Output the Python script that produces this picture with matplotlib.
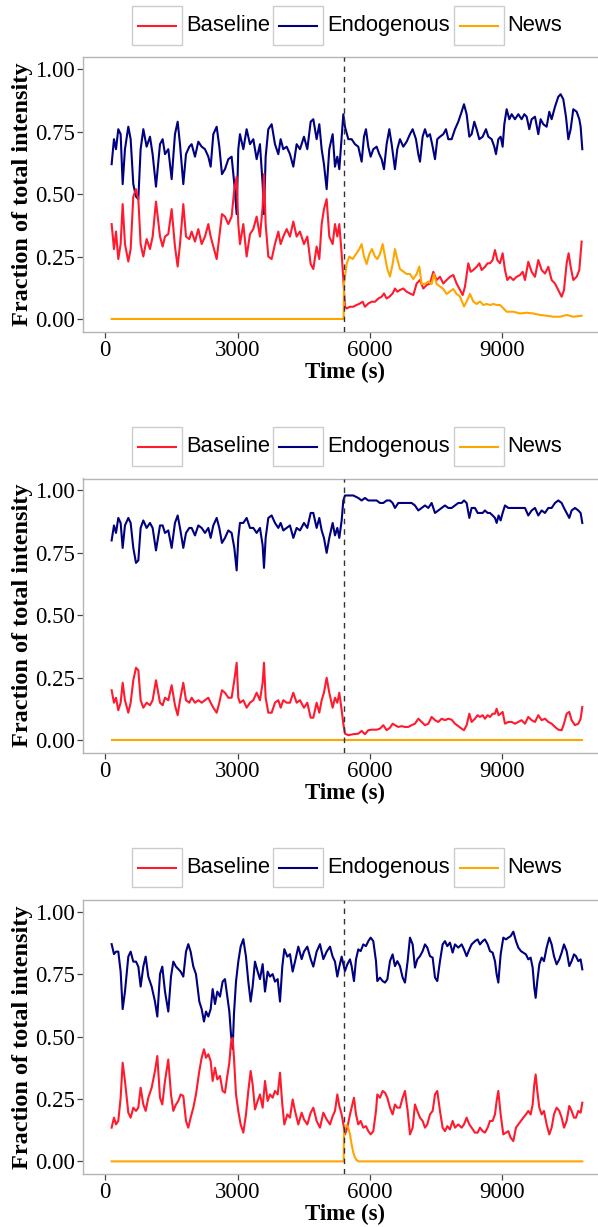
import matplotlib
matplotlib.use("Agg")
import matplotlib.pyplot as plt
from matplotlib.patches import Rectangle
from matplotlib.lines import Line2D

plt.rcParams['font.family'] = ['Liberation Serif', 'DejaVu Serif']

# ---------------- data ----------------
series_names = ["Baseline", "Endogenous", "News"]
x_ticks = [0, 3000, 6000, 9000]
x_tick_labels = ["0", "3000", "6000", "9000"]
y_ticks = [0.00, 0.25, 0.50, 0.75, 1.00]
y_tick_labels = ["0.00", "0.25", "0.50", "0.75", "1.00"]
news_onset = 5400
x_label = "Time (s)"
y_label = "Fraction of total intensity"

# shared time grid, first half of panels 1 and 2
t_left_ab = [144,197,243,295,348,394,446,522,575,635,696,749,801,862,937,1013,1073,1149,1240,1300,
             1353,1428,1504,1579,1640,1693,1768,1829,1904,1957,2033,2108,2184,2259,2335,2388,2448,2524,2584,2644,
             2712,2788,2863,2924,2977,3014,3052,3128,3203,3279,3354,3430,3505,3566,3596,3634,3694,3770,3845,3921,
             3974,4034,4110,4185,4261,4336,4412,4502,4578,4654,4714,4789,4850,4903,4955,5016,5076,5152,5205,5258,
             5303,5356]

# ---- panel 1 ----
p1_endo_left = [0.62,0.72,0.68,0.76,0.74,0.54,0.68,0.77,0.72,0.54,0.49,0.48,0.68,0.76,0.69,0.73,0.66,0.53,0.70,0.72,
                0.66,0.68,0.56,0.74,0.79,0.70,0.54,0.66,0.69,0.70,0.65,0.71,0.69,0.68,0.65,0.61,0.74,0.77,0.69,0.58,
                0.60,0.64,0.65,0.54,0.42,0.68,0.74,0.68,0.76,0.70,0.72,0.64,0.70,0.54,0.42,0.65,0.76,0.78,0.70,0.66,
                0.72,0.68,0.69,0.66,0.61,0.70,0.68,0.73,0.68,0.79,0.80,0.72,0.78,0.68,0.62,0.52,0.68,0.74,0.61,0.65,
                0.60,0.73]
p1_base_left = [0.38,0.28,0.35,0.24,0.30,0.46,0.30,0.23,0.28,0.49,0.52,0.48,0.30,0.25,0.32,0.28,0.33,0.47,0.33,0.29,
                0.33,0.34,0.44,0.29,0.21,0.30,0.46,0.33,0.32,0.35,0.31,0.36,0.30,0.33,0.38,0.33,0.29,0.24,0.33,0.42,
                0.41,0.38,0.41,0.52,0.57,0.38,0.30,0.38,0.25,0.34,0.36,0.41,0.33,0.45,0.58,0.38,0.25,0.24,0.30,0.35,
                0.30,0.33,0.36,0.33,0.39,0.33,0.35,0.30,0.33,0.22,0.20,0.29,0.24,0.38,0.44,0.48,0.33,0.30,0.38,0.33,
                0.38,0.26]
p1_endo_right_t = [5394,5431,5507,5582,5658,5733,5809,5862,5907,5960,6013,6073,6149,6209,6262,6315,6375,6436,6489,6564,
                   6617,6677,6753,6829,6904,6965,7040,7093,7131,7191,7244,7297,7357,7418,7471,7523,7584,7659,7720,7773,
                   7848,7924,7999,8075,8128,8188,8249,8301,8362,8415,8475,8551,8626,8679,8755,8815,8853,8906,8959,9004,
                   9042,9095,9155,9208,9283,9359,9434,9495,9548,9608,9661,9737,9812,9865,9925,10001,10061,10114,10190,10265,
                   10318,10378,10439,10492,10545,10605,10681,10741,10771,10809]
p1_endo_right = [0.82,0.77,0.72,0.72,0.70,0.69,0.63,0.73,0.76,0.69,0.65,0.68,0.69,0.66,0.64,0.60,0.70,0.76,0.70,0.60,
                 0.68,0.72,0.69,0.71,0.74,0.76,0.72,0.66,0.63,0.73,0.76,0.73,0.74,0.69,0.64,0.72,0.73,0.74,0.76,0.72,
                 0.72,0.76,0.79,0.83,0.86,0.82,0.73,0.74,0.79,0.76,0.72,0.73,0.76,0.73,0.72,0.69,0.66,0.72,0.73,0.69,
                 0.78,0.84,0.80,0.82,0.80,0.82,0.80,0.82,0.81,0.76,0.80,0.81,0.74,0.80,0.78,0.77,0.83,0.80,0.85,0.89,
                 0.90,0.88,0.81,0.72,0.76,0.84,0.83,0.80,0.77,0.68]
p1_base_right_t = [5394,5431,5469,5545,5620,5696,5771,5832,5884,5960,6036,6111,6187,6262,6315,6375,6436,6511,6564,6617,
                   6677,6753,6829,6904,6980,7055,7131,7206,7282,7357,7433,7508,7584,7659,7735,7810,7886,7961,8037,8098,
                   8150,8226,8279,8339,8415,8475,8528,8603,8664,8717,8777,8830,8883,8943,9004,9057,9110,9170,9246,9321,
                   9397,9457,9510,9585,9661,9737,9812,9888,9963,10039,10114,10190,10265,10341,10394,10454,10499,10545,10605,10681,
                   10741,10794]
p1_base_right = [0.16,0.049,0.042,0.049,0.049,0.056,0.062,0.069,0.049,0.062,0.069,0.069,0.082,0.089,0.102,0.082,0.089,0.102,0.122,0.109,
                 0.116,0.122,0.109,0.102,0.096,0.142,0.156,0.122,0.136,0.142,0.189,0.156,0.169,0.142,0.156,0.169,0.176,0.142,0.116,0.096,
                 0.129,0.223,0.189,0.196,0.209,0.223,0.196,0.209,0.223,0.223,0.236,0.276,0.236,0.223,0.263,0.196,0.156,0.169,0.156,0.169,
                 0.176,0.189,0.156,0.229,0.189,0.169,0.236,0.196,0.182,0.209,0.156,0.142,0.116,0.089,0.116,0.223,0.263,0.209,0.156,0.169,
                 0.196,0.310]
p1_news_t = [144,5401,5409,5431,5469,5529,5605,5681,5756,5809,5862,5922,5983,6043,6111,6164,6224,6285,6338,6391,
             6451,6511,6564,6617,6677,6753,6829,6904,6980,7055,7116,7168,7244,7320,7395,7448,7508,7584,7659,7735,
             7810,7886,7961,8037,8128,8188,8264,8339,8415,8490,8566,8641,8717,8792,8868,8943,9019,9095,9246,9397,
             9548,9699,9850,10001,10152,10303,10454,10605,10794]
p1_news = [0.0,0.0,0.14,0.17,0.22,0.25,0.24,0.26,0.28,0.30,0.25,0.22,0.26,0.28,0.25,0.24,0.26,0.30,0.25,0.20,
           0.17,0.22,0.28,0.24,0.20,0.19,0.18,0.18,0.16,0.18,0.21,0.14,0.14,0.15,0.14,0.18,0.14,0.13,0.12,0.10,
           0.11,0.12,0.10,0.09,0.05,0.07,0.10,0.07,0.06,0.07,0.056,0.06,0.056,0.06,0.056,0.056,0.043,0.029,0.029,0.022,
           0.025,0.022,0.016,0.013,0.009,0.009,0.016,0.009,0.013]

# ---- panel 2 ----
p2_endo_left = [0.80,0.86,0.83,0.89,0.87,0.77,0.86,0.89,0.87,0.77,0.71,0.72,0.85,0.88,0.85,0.87,0.85,0.76,0.86,0.86,
                0.83,0.84,0.77,0.87,0.90,0.85,0.77,0.83,0.85,0.85,0.82,0.86,0.85,0.83,0.85,0.81,0.86,0.89,0.85,0.79,
                0.81,0.84,0.83,0.77,0.68,0.81,0.87,0.87,0.89,0.85,0.85,0.83,0.85,0.78,0.69,0.81,0.89,0.90,0.87,0.85,
                0.87,0.84,0.85,0.86,0.81,0.85,0.84,0.87,0.85,0.91,0.91,0.85,0.89,0.84,0.81,0.75,0.81,0.87,0.82,0.85,
                0.81,0.88]
p2_base_left = [0.20,0.15,0.17,0.12,0.15,0.23,0.16,0.11,0.15,0.24,0.29,0.28,0.16,0.13,0.15,0.14,0.16,0.24,0.15,0.14,
                0.17,0.16,0.22,0.14,0.10,0.16,0.23,0.16,0.15,0.17,0.15,0.16,0.15,0.16,0.17,0.15,0.13,0.11,0.15,0.20,
                0.19,0.17,0.17,0.24,0.31,0.17,0.15,0.16,0.13,0.15,0.16,0.19,0.16,0.23,0.31,0.17,0.11,0.11,0.15,0.16,
                0.13,0.16,0.15,0.15,0.19,0.15,0.16,0.13,0.15,0.09,0.09,0.15,0.11,0.16,0.19,0.25,0.19,0.13,0.17,0.15,
                0.19,0.12]
p2_right_t = [5394,5431,5507,5620,5733,5809,5884,5960,6036,6149,6224,6300,6375,6451,6511,6564,6640,6715,6791,6866,
              6942,7017,7093,7168,7244,7320,7395,7471,7546,7622,7697,7773,7848,7924,7999,8075,8128,8188,8249,8301,
              8377,8437,8490,8551,8603,8664,8717,8777,8830,8868,8913,8958,9004,9057,9132,9208,9283,9359,9434,9510,
              9585,9661,9737,9812,9888,9963,10039,10114,10190,10265,10341,10394,10454,10514,10567,10643,10718,10771,10809]
p2_endo_right = [0.96,0.98,0.98,0.98,0.97,0.96,0.97,0.96,0.96,0.96,0.95,0.95,0.96,0.96,0.95,0.93,0.95,0.95,0.95,0.95,
                 0.95,0.94,0.92,0.93,0.94,0.93,0.95,0.91,0.92,0.93,0.94,0.93,0.93,0.94,0.95,0.95,0.96,0.95,0.89,0.93,
                 0.93,0.91,0.91,0.91,0.92,0.91,0.91,0.90,0.89,0.87,0.90,0.88,0.91,0.94,0.93,0.93,0.93,0.93,0.93,0.93,
                 0.90,0.92,0.93,0.90,0.92,0.91,0.93,0.93,0.95,0.96,0.95,0.93,0.91,0.89,0.92,0.93,0.92,0.91,0.87]
p2_base_right = [0.066,0.026,0.020,0.024,0.026,0.037,0.024,0.040,0.042,0.042,0.046,0.060,0.040,0.050,0.066,0.060,0.053,0.056,0.053,0.053,
                 0.060,0.066,0.086,0.073,0.060,0.066,0.093,0.080,0.073,0.086,0.080,0.086,0.082,0.066,0.056,0.046,0.040,0.060,0.106,0.073,
                 0.086,0.100,0.093,0.100,0.086,0.100,0.093,0.106,0.106,0.126,0.100,0.106,0.113,0.066,0.073,0.073,0.066,0.073,0.080,0.066,
                 0.093,0.080,0.073,0.100,0.080,0.086,0.073,0.066,0.053,0.042,0.040,0.066,0.106,0.113,0.080,0.060,0.066,0.086,0.133]
p2_news_t = [144, 10809]
p2_news = [0.0, 0.0]

# ---- panel 3 ----
p3_left_t = [144,197,243,295,348,394,446,522,575,635,696,749,801,862,915,975,1051,1126,1179,1240,
             1292,1353,1428,1489,1542,1602,1655,1708,1768,1829,1881,1934,1995,2055,2131,2184,2236,2282,2335,2388,
             2433,2486,2539,2599,2659,2712,2765,2811,2848,2886,2916,2962,3014,3067,3128,3188,3241,3294,3339,3392,
             3453,3505,3566,3619,3679,3732,3792,3845,3906,3959,4011,4057,4125,4185,4246,4299,4374,4450,4502,4578,
             4654,4714,4789,4865,4941,5016,5092,5152,5205,5258,5303,5356,5409]
p3_endo_left = [0.87,0.83,0.84,0.84,0.76,0.61,0.68,0.82,0.84,0.80,0.80,0.78,0.70,0.78,0.82,0.74,0.70,0.64,0.58,0.75,
                0.78,0.68,0.60,0.74,0.80,0.78,0.77,0.76,0.74,0.84,0.87,0.84,0.78,0.75,0.64,0.61,0.56,0.60,0.58,0.61,
                0.69,0.63,0.68,0.66,0.72,0.73,0.66,0.60,0.51,0.45,0.59,0.72,0.80,0.86,0.89,0.82,0.72,0.64,0.70,0.80,
                0.76,0.73,0.79,0.68,0.76,0.74,0.75,0.72,0.73,0.64,0.78,0.85,0.82,0.83,0.76,0.80,0.86,0.81,0.84,0.86,
                0.81,0.78,0.84,0.87,0.81,0.84,0.86,0.82,0.80,0.74,0.78,0.82]
p3_base_left = [0.135,0.175,0.148,0.162,0.255,0.395,0.322,0.195,0.175,0.215,0.202,0.215,0.295,0.228,0.202,0.255,0.295,0.362,0.422,0.255,
                0.228,0.322,0.408,0.268,0.202,0.228,0.242,0.268,0.262,0.162,0.135,0.175,0.215,0.268,0.362,0.415,0.449,0.415,0.429,0.402,
                0.322,0.375,0.328,0.342,0.282,0.275,0.342,0.395,0.475,0.495,0.415,0.268,0.202,0.148,0.115,0.188,0.282,0.362,0.308,0.208,
                0.242,0.268,0.215,0.322,0.242,0.268,0.255,0.282,0.268,0.355,0.228,0.148,0.188,0.175,0.248,0.202,0.148,0.195,0.168,0.148,
                0.195,0.215,0.162,0.135,0.195,0.168,0.148,0.181,0.202,0.268,0.222,0.188,0.135]
p3_right_t = [5431,5484,5545,5582,5635,5681,5733,5786,5847,5907,5960,6013,6073,6134,6164,6224,6285,6338,
              6391,6451,6511,6564,6617,6677,6738,6791,6851,6904,6965,7017,7070,7131,7191,7244,7297,7357,7418,7471,
              7523,7584,7644,7697,7750,7810,7871,7924,7999,8075,8128,8188,8249,8301,8377,8437,8490,8551,8603,8664,
              8717,8777,8830,8868,8906,8959,9019,9079,9132,9185,9246,9306,9359,9419,9472,9532,9585,9638,9684,9721,
              9752,9789,9835,9888,9940,10001,10061,10114,10167,10227,10288,10341,10394,10454,10514,10567,10620,10665,10718,10771,
              10809]
p3_endo_right = [0.762,0.789,0.809,0.782,0.722,0.809,0.849,0.842,0.869,0.862,0.882,0.896,0.882,0.802,0.722,0.736,0.722,0.716,
                 0.729,0.802,0.829,0.782,0.802,0.782,0.736,0.716,0.802,0.896,0.869,0.776,0.809,0.822,0.842,0.869,0.856,0.822,0.816,0.736,
                 0.722,0.802,0.869,0.882,0.862,0.876,0.836,0.869,0.856,0.869,0.849,0.822,0.849,0.869,0.882,0.889,0.869,0.882,0.889,0.869,
                 0.842,0.836,0.802,0.749,0.716,0.829,0.896,0.889,0.896,0.902,0.920,0.882,0.856,0.842,0.836,0.829,0.809,0.816,0.776,0.696,
                 0.655,0.722,0.789,0.816,0.802,0.856,0.896,0.869,0.822,0.789,0.809,0.836,0.869,0.842,0.782,0.802,0.829,0.822,0.802,0.809,
                 0.769]
p3_base_right = [0.108,0.135,0.188,0.215,0.255,0.188,0.148,0.162,0.135,0.141,0.121,0.108,0.121,0.202,0.268,0.255,0.282,0.275,
                 0.255,0.215,0.188,0.228,0.215,0.215,0.255,0.282,0.202,0.108,0.135,0.228,0.202,0.175,0.162,0.135,0.148,0.188,0.202,0.268,
                 0.282,0.202,0.135,0.121,0.141,0.128,0.162,0.135,0.148,0.135,0.148,0.175,0.148,0.135,0.115,0.115,0.135,0.121,0.115,0.135,
                 0.162,0.162,0.188,0.242,0.282,0.188,0.108,0.115,0.121,0.095,0.081,0.135,0.148,0.162,0.175,0.188,0.202,0.188,0.228,0.308,
                 0.348,0.282,0.215,0.188,0.202,0.148,0.108,0.135,0.188,0.215,0.202,0.175,0.135,0.162,0.222,0.202,0.175,0.175,0.202,0.195,
                 0.235]
p3_news_t = [144,5401,5409,5431,5469,5507,5545,5582,5620,5658,5696,5733,10809]
p3_news = [0.0,0.0,0.108,0.135,0.145,0.135,0.108,0.068,0.035,0.015,0.005,0.0,0.0]

panels = [
    {"Baseline": (t_left_ab + p1_base_right_t, p1_base_left + p1_base_right),
     "Endogenous": (t_left_ab + p1_endo_right_t, p1_endo_left + p1_endo_right),
     "News": (p1_news_t, p1_news)},
    {"Baseline": (t_left_ab + p2_right_t, p2_base_left + p2_base_right),
     "Endogenous": (t_left_ab + p2_right_t, p2_endo_left + p2_endo_right),
     "News": (p2_news_t, p2_news)},
    {"Baseline": (p3_left_t + p3_right_t, p3_base_left + p3_base_right),
     "Endogenous": (p3_left_t[:len(p3_endo_left)] + p3_right_t, p3_endo_left + p3_endo_right),
     "News": (p3_news_t, p3_news)},
]

# ---------------- style ----------------
colors = {"Baseline": "#FF1A2E", "Endogenous": "#000080", "News": "#FFA500"}
draw_order = ["Endogenous", "Baseline", "News"]

W, H = 598, 1227
fig = plt.figure(figsize=(W / 100, H / 100), dpi=100)

ax_left_px, ax_right_px = 83.3, 612.8
panel_offset = 421.2
panel_top0, panel_bot0 = 57.3, 331.7
legend_cy0 = 25.5
xlabel_cy0 = 372
spine_col = "#b5b5b5"

key_boxes = [(132, 186), (273, 327), (454, 507)]

for i, pdata in enumerate(panels):
    top = panel_top0 + i * panel_offset
    bot = panel_bot0 + i * panel_offset
    ax = fig.add_axes([ax_left_px / W, 1 - bot / H, (ax_right_px - ax_left_px) / W, (bot - top) / H])
    for name in draw_order:
        tt, vv = pdata[name]
        ax.plot(tt, vv, color=colors[name], lw=1.5, solid_joinstyle="round", zorder=3)
    ax.axvline(news_onset, color="#333333", lw=1.0, ls=(0, (4, 3.5)), zorder=4)
    ax.set_xlim(-498, 11500)
    ax.set_ylim(-0.051, 1.048)
    ax.set_xticks(x_ticks)
    ax.set_xticklabels(x_tick_labels)
    ax.set_yticks(y_ticks)
    ax.set_yticklabels(y_tick_labels)
    ax.tick_params(axis="both", direction="out", length=4, width=0.9, color="#444444",
                   labelsize=16.5, labelcolor="black", pad=2)
    for s in ["left", "bottom", "top"]:
        ax.spines[s].set_color(spine_col)
        ax.spines[s].set_linewidth(1.0)
    ax.spines["right"].set_visible(False)
    ax.set_xlabel(x_label, fontsize=16.5, fontweight="bold")
    ax.set_ylabel(y_label, fontsize=17.5, fontweight="bold")
    axw = ax_right_px - ax_left_px
    axh = bot - top
    xlab_cy = xlabel_cy0 + i * panel_offset
    ax.yaxis.set_label_coords((22 - ax_left_px) / axw, 0.5)
    ax.xaxis.set_label_coords((345 - ax_left_px) / axw, -(xlab_cy - bot) / axh)
    ax.xaxis.label.set_va("center")
    ax.yaxis.label.set_va("center")

    # legend above panel
    cy = legend_cy0 + i * panel_offset
    for name, (bx, tx) in zip(series_names, key_boxes):
        bw, bh = 50, 39
        fig.add_artist(Rectangle((bx / W, 1 - (cy + bh / 2) / H), bw / W, bh / H,
                                 transform=fig.transFigure, facecolor="white",
                                 edgecolor="#cccccc", lw=1.0))
        fig.add_artist(Line2D([(bx + 6) / W, (bx + bw - 6) / W], [1 - cy / H, 1 - cy / H],
                              transform=fig.transFigure, color=colors[name], lw=1.5))
        fig.text(tx / W, 1 - cy / H, name, ha="left", va="center", fontsize=15.8,
                 family=["Liberation Sans", "DejaVu Sans"])

fig.savefig("out.png", dpi=100)
